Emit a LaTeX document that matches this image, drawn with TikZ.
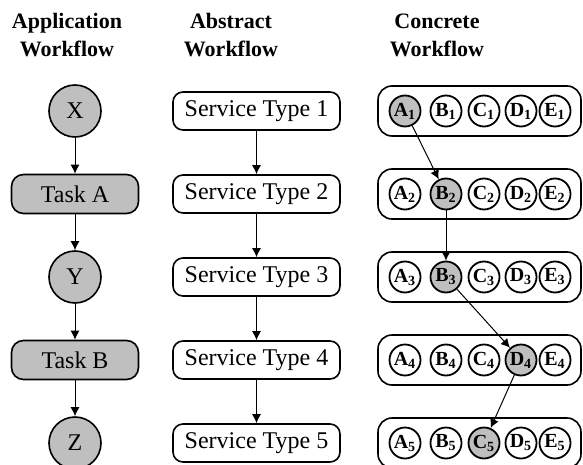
\documentclass[tikz,border=0pt]{standalone}
\usepackage{fontspec}
\setmainfont{Liberation Serif}
\usetikzlibrary{arrows.meta}
\tikzstyle{head}=[align=center,font=\fontsize{11}{14}\selectfont\bfseries]
\tikzstyle{data}=[circle,draw,thick,fill=black!25,minimum size=26pt,inner sep=0pt,font=\fontsize{12}{14}\selectfont]
\tikzstyle{task}=[rectangle,rounded corners=6pt,draw,thick,fill=black!25,minimum width=63.5pt,minimum height=19.5pt,inner sep=0pt,font=\fontsize{12}{14}\selectfont]
\tikzstyle{service}=[rectangle,rounded corners=5pt,draw,thick,minimum width=83.5pt,minimum height=19pt,inner sep=0pt,font=\fontsize{12}{14}\selectfont]
\tikzstyle{pool}=[rectangle,rounded corners=7pt,draw,thick,minimum width=101.5pt,minimum height=25pt]
\tikzstyle{inst}=[circle,draw,line width=0.9pt,minimum size=15.5pt,inner sep=0pt,font=\fontsize{10}{11}\selectfont\bfseries]
\tikzstyle{chosen}=[fill=black!25]
\tikzstyle{flow}=[-{Latex[length=4.5pt,width=4.5pt]},line width=0.5pt]

\begin{document}
\begin{tikzpicture}[x=0.5pt,y=-0.5pt]
    \useasboundingbox (0,0) rectangle (583,465);
    % column titles
    \node[head] (happ) at (67,35) {Application\\Workflow};
    \node[head] (habs) at (231,35) {Abstract\\Workflow};
    \node[head] (hcon) at (437,35) {Concrete\\Workflow};
    % application workflow
    \node[data] (X) at (75,111) {X};
    \node[task] (taskA) at (75,194) {Task A};
    \node[data] (Y) at (75,277) {Y};
    \node[task] (taskB) at (75,360) {Task B};
    \node[data] (Z) at (75,443) {Z};
    \draw[flow] (X) -- (taskA);
    \draw[flow] (taskA) -- (Y);
    \draw[flow] (Y) -- (taskB);
    \draw[flow] (taskB) -- (Z);
    % abstract and concrete workflow
    \foreach \i/\pick in {1/A,2/B,3/B,4/D,5/C} {
        \node[service] (st\i) at (256.5,{111+83*(\i-1)}) {Service Type \i};
        \node[pool] (pool\i) at (479.5,{111+83*(\i-1)}) {};
        \foreach \l/\x in {A/405,B/446,C/484,D/521,E/555} {
            \def\mark{}
            \ifx\l\pick \def\mark{chosen}\fi
            \node[inst,\mark] (\l\i) at (\x,{111+83*(\i-1)}) {\l\textsubscript{\i}};
        }
    }
    \foreach \i/\j in {1/2,2/3,3/4,4/5}
        \draw[flow] (st\i) -- (st\j);
    \draw[flow] (A1) -- (B2);
    \draw[flow] (B2) -- (B3);
    \draw[flow] (B3) -- (D4);
    \draw[flow] (D4) -- (C5);
\end{tikzpicture}
\end{document}
